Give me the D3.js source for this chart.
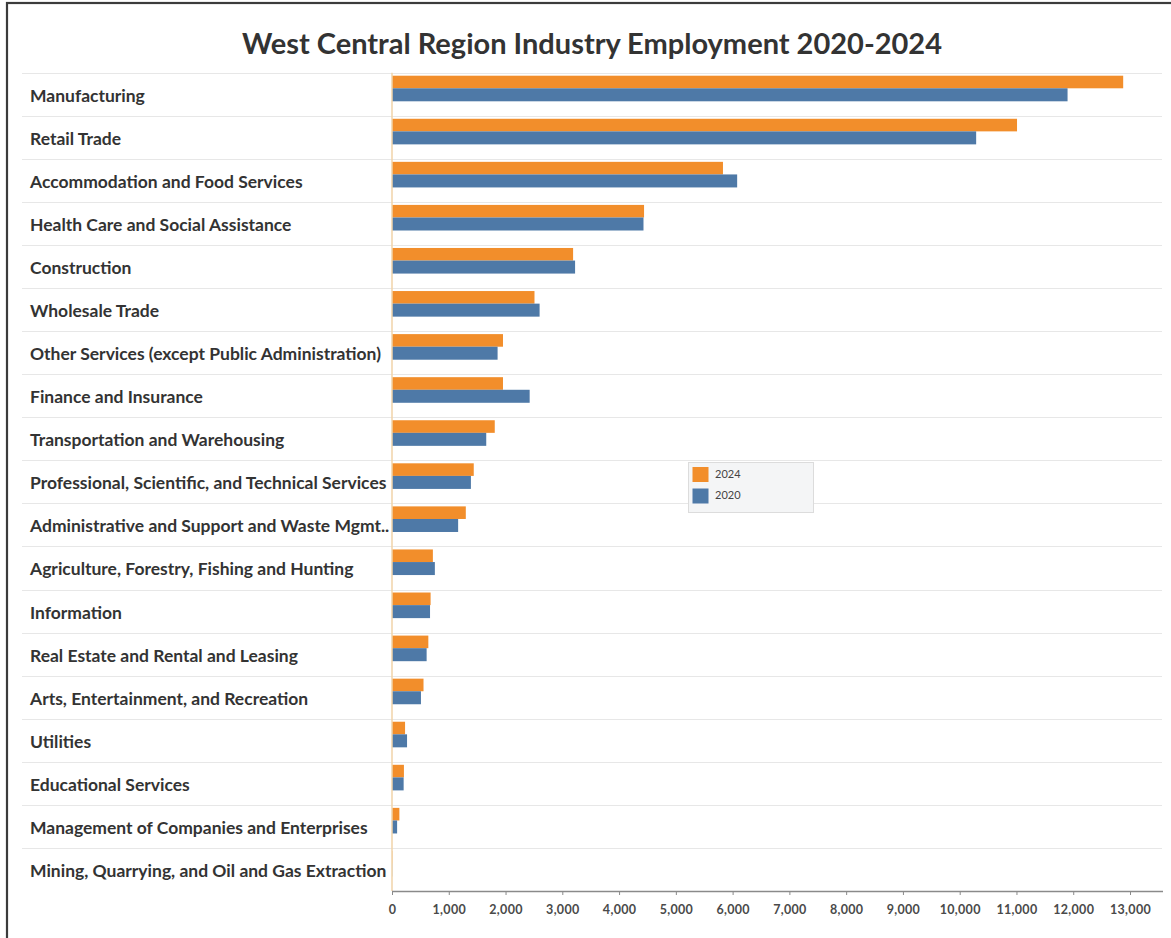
<!DOCTYPE html>
<html>
<head>
<meta charset="utf-8">
<script src="https://cdn.jsdelivr.net/npm/d3@7"></script>
<style>
  html, body { margin: 0; padding: 0; background: #fff; }
  svg { display: block; }
</style>
</head>
<body>
<svg id="chart" width="1171" height="938"></svg>
<script>
// Industries, largest first
const industries = [
  "Manufacturing",
  "Retail Trade",
  "Accommodation and Food Services",
  "Health Care and Social Assistance",
  "Construction",
  "Wholesale Trade",
  "Other Services (except Public Administration)",
  "Finance and Insurance",
  "Transportation and Warehousing",
  "Professional, Scientific, and Technical Services",
  "Administrative and Support and Waste Mgmt..",
  "Agriculture, Forestry, Fishing and Hunting",
  "Information",
  "Real Estate and Rental and Leasing",
  "Arts, Entertainment, and Recreation",
  "Utilities",
  "Educational Services",
  "Management of Companies and Enterprises",
  "Mining, Quarrying, and Oil and Gas Extraction"
];

// Employment by industry
const jobs2024 = [12880, 11010, 5830, 4440, 3190, 2510, 1955, 1955, 1810, 1440, 1300, 720, 680, 640, 555, 230, 210, 130, 6];
const jobs2020 = [11900, 10290, 6080, 4430, 3225, 2600, 1860, 2425, 1660, 1390, 1165, 755, 670, 610, 510, 265, 205, 90, 4];

const years = ["2024", "2020"];
const tickValues = d3.range(0, 13001, 1000);
const titleText = "West Central Region Industry Employment 2020-2024";

const colors = { "2024": "#f28e2b", "2020": "#4e79a7" };
const FONT = "Lato, 'Open Sans', sans-serif";

const svg = d3.select("#chart");

// frame
svg.append("rect")
  .attr("x", 7).attr("y", 3)
  .attr("width", 1300).attr("height", 1100)
  .attr("fill", "none")
  .attr("stroke", "#3c3c3c")
  .attr("stroke-width", 2.2);

// helper: scale a text's font so it spans a given width
function fitWidth(sel, target) {
  const node = sel.node();
  const size = parseFloat(sel.attr("font-size"));
  const w = node.getComputedTextLength();
  sel.attr("font-size", (size * target / w).toFixed(2));
}

// title
const title = svg.append("text")
  .attr("x", 592).attr("y", 54)
  .attr("text-anchor", "middle")
  .attr("font-family", FONT)
  .attr("font-weight", 700)
  .attr("font-size", 26)
  .attr("fill", "#333")
  .text(titleText);
fitWidth(title, 700);

// scales
const x = d3.scaleLinear().domain([0, 13000]).range([392, 1130]);
const y = d3.scaleBand().domain(industries).range([72.7, 891]).paddingInner(0).paddingOuter(0);

const rows = industries.map((name, i) => ({ name, v2024: jobs2024[i], v2020: jobs2020[i] }));

// row separators
svg.append("g").selectAll("line")
  .data(industries)
  .join("line")
  .attr("x1", 22).attr("x2", 1162)
  .attr("y1", d => Math.round(y(d)) + 0.5)
  .attr("y2", d => Math.round(y(d)) + 0.5)
  .attr("stroke", "#e7e7e7")
  .attr("stroke-width", 1);

// category labels
const labels = svg.append("g").selectAll("text")
  .data(industries)
  .join("text")
  .attr("x", 30)
  .attr("y", d => y(d) + 24.5)
  .attr("dominant-baseline", "middle")
  .attr("font-family", FONT)
  .attr("font-weight", 700)
  .attr("font-size", 15)
  .attr("fill", "#333")
  .text(d => d);
// size labels so the longest ones line up with the zero line
{
  const node = labels.filter(d => d === "Other Services (except Public Administration)").node();
  const w = node.getComputedTextLength();
  labels.attr("font-size", (15 * 351 / w).toFixed(2));
}

// bars
const barH = 12.6;
const bars = svg.append("g");
bars.selectAll("rect.y2024")
  .data(rows)
  .join("rect")
  .attr("class", "y2024")
  .attr("x", x(0))
  .attr("y", d => y(d.name) + 3)
  .attr("width", d => x(d.v2024) - x(0))
  .attr("height", barH)
  .attr("fill", colors["2024"]);
bars.selectAll("rect.y2020")
  .data(rows)
  .join("rect")
  .attr("class", "y2020")
  .attr("x", x(0))
  .attr("y", d => y(d.name) + 3 + barH)
  .attr("width", d => x(d.v2020) - x(0))
  .attr("height", barH + 0.4)
  .attr("fill", colors["2020"]);

// zero line
svg.append("line")
  .attr("x1", x(0)).attr("x2", x(0))
  .attr("y1", 72.7).attr("y2", 891)
  .attr("stroke", "#f0d3a8")
  .attr("stroke-width", 1.5);

// x axis
const axis = d3.axisBottom(x)
  .tickValues(tickValues)
  .tickSize(4)
  .tickFormat(d3.format(","));
const axG = svg.append("g")
  .attr("transform", "translate(0,891)")
  .call(axis);
axG.select(".domain").remove();
axG.append("line")
  .attr("x1", x(0)).attr("x2", 1163)
  .attr("y1", 0.5).attr("y2", 0.5)
  .attr("stroke", "#8a8a8a").attr("stroke-width", 1.5);
axG.selectAll(".tick line").attr("stroke", "#8a8a8a");
axG.selectAll(".tick text")
  .attr("y", 22.5)
  .attr("dy", null)
  .attr("font-family", FONT)
  .attr("font-size", 12.5)
  .style("letter-spacing", "0.3px")
  .attr("font-weight", 700)
  .attr("fill", "#4a4a4a");

// legend
const leg = svg.append("g").attr("transform", "translate(688,462)");
leg.append("rect")
  .attr("x", 0.5).attr("y", 0.5)
  .attr("width", 125).attr("height", 50)
  .attr("fill", "#f4f5f6")
  .attr("stroke", "#dcdcdc");
years.forEach((yr, i) => {
  leg.append("rect")
    .attr("x", 4.5).attr("y", 5 + i * 21.5)
    .attr("width", 16).attr("height", 15)
    .attr("fill", colors[yr]);
  leg.append("text")
    .attr("x", 27).attr("y", 13 + i * 21.5)
    .attr("dominant-baseline", "middle")
    .attr("font-family", FONT)
    .attr("font-size", 11)
    .attr("fill", "#444")
    .text(yr);
});
</script>
</body>
</html>
